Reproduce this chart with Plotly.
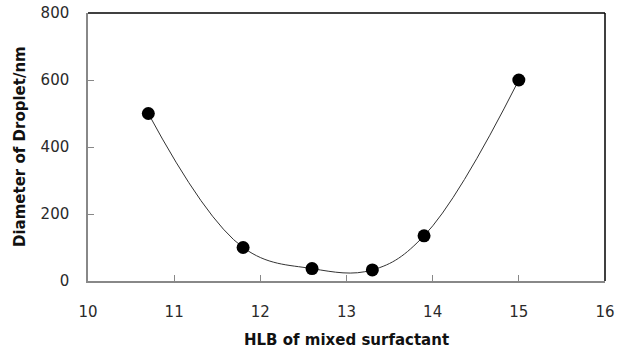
import plotly.graph_objects as go

hlb = [10.7, 11.8, 12.6, 13.3, 13.9, 15.0]
diameter = [500, 100, 37, 33, 135, 600]
x_ticks = [10, 11, 12, 13, 14, 15, 16]
y_ticks = [0, 200, 400, 600, 800]

fig = go.Figure()
fig.add_trace(go.Scatter(
    x=hlb, y=diameter, mode="lines",
    line=dict(shape="spline", smoothing=1.1, color="#333333", width=1),
    hoverinfo="skip", showlegend=False))
fig.add_trace(go.Scatter(
    x=hlb, y=diameter, mode="markers",
    marker=dict(size=13, color="black"), showlegend=False))

tick_font = dict(family="DejaVu Sans", size=15, color="#2a2a2a")
title_font = dict(family="DejaVu Sans", size=15, color="#111111")
fig.update_layout(
    width=626, height=355,
    margin=dict(l=88, r=21, t=13, b=74, autoexpand=False),
    plot_bgcolor="white", paper_bgcolor="white",
    xaxis=dict(range=[10, 16], tickvals=x_ticks, ticks="inside", ticklen=6,
               tickcolor="#888888", showline=True, linecolor="#888888", linewidth=1.5,
               showgrid=False, zeroline=False, ticklabelstandoff=16,
               tickfont=tick_font, automargin=False),
    yaxis=dict(range=[0, 800], tickvals=y_ticks, ticks="inside", ticklen=6,
               tickcolor="#888888", showline=True, linecolor="#888888", linewidth=1.5,
               showgrid=False, zeroline=False, ticklabelstandoff=14,
               tickfont=tick_font, automargin=False),
    shapes=[
        dict(type="line", xref="paper", yref="paper", x0=0, x1=1, y0=1, y1=1,
             line=dict(color="black", width=1.5)),
        dict(type="line", xref="paper", yref="paper", x0=1, x1=1, y0=0, y1=1,
             line=dict(color="black", width=1.5)),
    ],
    annotations=[
        dict(text="<b>HLB of mixed surfactant</b>", xref="paper", yref="paper",
             x=0.5, y=-(341 - 281.7) / 268.4, xanchor="center", yanchor="middle",
             showarrow=False, font=title_font),
        dict(text="<b>Diameter of Droplet/nm</b>", xref="paper", yref="paper",
             x=-(88 - 20) / 517, y=0.5, xanchor="center", yanchor="middle",
             textangle=-90, showarrow=False, font=title_font),
    ],
)
fig.write_html("out.html", config={"displayModeBar": False},
               post_script="document.body.style.margin='0';document.body.style.overflow='hidden';")
